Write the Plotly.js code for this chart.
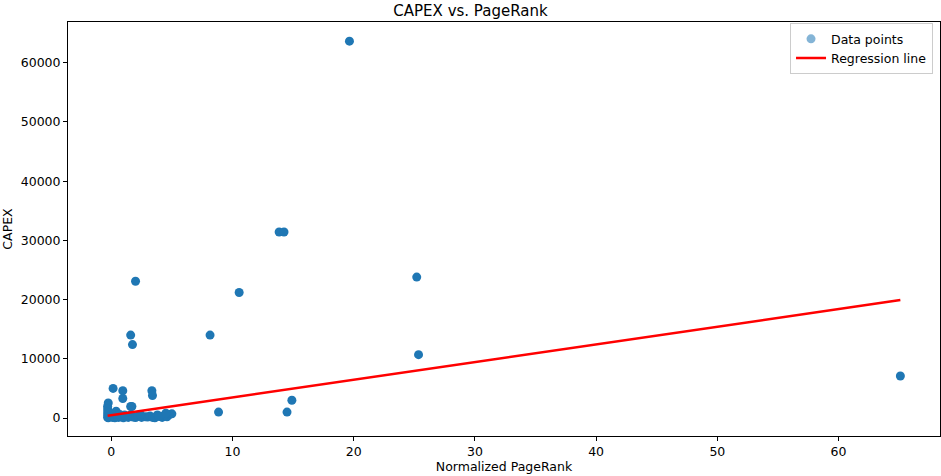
<!DOCTYPE html>
<html>
<head>
<meta charset="utf-8">
<script src="https://cdn.plot.ly/plotly-3.0.1.min.js"></script>
<style>html,body{margin:0;padding:0;background:#fff;}#chart{width:941px;height:476px;}</style>
</head>
<body>
<div id="chart"></div>
<script>
// Data points (Normalized PageRank, CAPEX)
const pageRank = [
  19.65, 13.85, 14.25, 25.2, 10.55, 2.0, 8.15, 1.6, 1.75, 25.35, 65.1,
  14.9, 14.5, 8.85, 0.15, 0.95, 0.95, 3.35, 3.4, -0.25, 1.6, 1.7,
  -0.3, -0.3, -0.3, -0.3, -0.3, -0.25, -0.2, 0.0, 0.1, 0.2, 0.3, 0.4, 0.5, 0.6,
  0.8, 1.0, 1.2, 1.4, 1.6, 1.8, 2.0, 2.2, 2.5, 2.8, 3.0, 3.2, 3.4, 3.6, 3.8,
  4.0, 4.2, 4.4, 4.6, 4.8, 5.0, 0.3, 0.7, 1.1, 2.4, 3.9, 4.5
];
const capex = [
  63650, 31420, 31420, 23800, 21200, 23100, 14000, 14000, 12400, 10700, 7100,
  3000, 1000, 1000, 5000, 4600, 3300, 4600, 3800, 2550, 1950, 1950,
  2000, 1500, 1000, 500, 100, 50, 800, 200, 100, 400, 50, 1150, 300, 100,
  200, 50, 300, 100, 500, 150, 80, 300, 100, 200, 150, 350, 100, 50, 500,
  300, 100, 400, 200, 600, 700, 700, 600, 500, 600, 300, 800
];
// Regression line endpoints
const regX = [-0.3, 65.1];
const regY = [390, 19930];

const blue = '#1f77b4';
const traces = [
  {x: pageRank, y: capex, mode: 'markers', type: 'scatter', name: 'Data points',
   showlegend: false, marker: {color: blue, size: 9}},
  {x: [null], y: [null], mode: 'markers', type: 'scatter', name: 'Data points',
   marker: {color: 'rgba(31,119,180,0.55)', size: 9}},
  {x: regX, y: regY, mode: 'lines', type: 'scatter', name: 'Regression line',
   line: {color: '#ff0000', width: 2.5}}
];
const font = {family: 'DejaVu Sans', size: 12.5, color: '#000'};
const layout = {
  width: 941, height: 476,
  margin: {l: 68, r: 1, t: 22, b: 40},
  paper_bgcolor: '#fff', plot_bgcolor: '#fff',
  font: font,
  title: {text: 'CAPEX vs. PageRank', font: {family: 'DejaVu Sans', size: 15, color: '#000'},
          x: 0.5, xanchor: 'center', y: 0.978, yanchor: 'middle'},
  xaxis: {
    title: {text: 'Normalized PageRank', font: font, standoff: 4},
    range: [-3.57, 68.37], tickvals: [0,10,20,30,40,50,60],
    showgrid: false, zeroline: false, showline: true, mirror: true,
    linecolor: '#000', linewidth: 1, ticks: 'outside', ticklen: 4, tickcolor: '#000',
    tickfont: font
  },
  yaxis: {
    title: {text: 'CAPEX', font: font, standoff: 6},
    range: [-3040, 66890], tickvals: [0,10000,20000,30000,40000,50000,60000],
    ticktext: ['0','10000','20000','30000','40000','50000','60000'],
    showgrid: false, zeroline: false, showline: true, mirror: true,
    linecolor: '#000', linewidth: 1, ticks: 'outside', ticklen: 4, tickcolor: '#000',
    tickfont: font
  },
  legend: {x: 0.992, xanchor: 'right', y: 0.997, yanchor: 'top',
           bgcolor: 'rgba(255,255,255,0.8)', bordercolor: '#cccccc', borderwidth: 1,
           itemwidth: 30, tracegroupgap: 0,
           font: {family: 'DejaVu Sans', size: 12.5, color: '#000'}}
};
Plotly.newPlot('chart', traces, layout, {displayModeBar: false, staticPlot: true});
</script>
</body>
</html>
